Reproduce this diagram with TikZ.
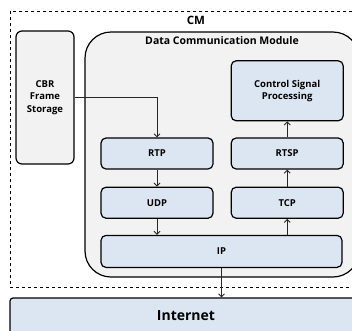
\documentclass[tikz,border=0pt]{standalone}
\usepackage{fontspec}
\setmainfont{Open Sans}
\usetikzlibrary{arrows.meta,positioning}
\definecolor{layerblue}{HTML}{DCE6F2}
\definecolor{panelgray}{HTML}{F2F2F2}

\begin{document}
\begin{tikzpicture}[x=1pt, y=-1pt,
  layer/.style={draw, line width=1.2pt, rounded corners=5pt, fill=layerblue, minimum width=112pt, minimum height=31pt, inner sep=0pt, align=center, font=\fontsize{9.5}{12.5}\selectfont\bfseries},
  panel/.style={draw, line width=1.2pt, fill=panelgray, inner sep=0pt},
  flow/.style={-{Straight Barb[length=3pt,width=6pt]}, line width=0.9pt, color=black!85}
]
\clip (0,0) rectangle (352,330);
% CM frame
\draw[dashed, line width=0.7pt] (10,11) rectangle (364,287);
\node[font=\fontsize{11.5}{13}\selectfont\bfseries] (cm) at (196,20) {CM};
\node[panel, rounded corners=6pt, minimum width=58pt, minimum height=133pt, align=center, font=\fontsize{9.5}{12.5}\selectfont\bfseries] (cbr) at (45,97.5) {CBR\\Frame\\Storage};
\node[panel, rounded corners=26pt, minimum width=274pt, minimum height=245pt] (dcm) at (222,154.5) {};
\node[font=\fontsize{10.5}{12}\selectfont\bfseries, below=2pt of dcm.north] (title) {Data Communication Module};

\node[layer] (rtp) at (157,153.5) {RTP};
\node[layer, below=17pt of rtp] (udp) {UDP};
\node[layer, right=17pt of rtp] (rtsp) {RTSP};
\node[layer, right=17pt of udp] (tcp) {TCP};
\node[layer, minimum height=60pt, above=16pt of rtsp] (csp) {Control Signal\\Processing};
\node[layer, minimum width=241pt, minimum height=32pt, below=16pt of udp.south west, anchor=north west] (ip) {IP};
\node[layer, rounded corners=3pt, minimum width=352pt, minimum height=36pt, font=\fontsize{14}{16}\selectfont\bfseries] (inet) at (186,316) {Internet};

\draw[flow] (cbr.east) -| (rtp.north);
\draw[flow] (rtp) -- (udp);
\draw[flow] (udp) -- (udp |- ip.north);
\draw[flow] (tcp |- ip.north) -- (tcp);
\draw[flow] (tcp) -- (rtsp);
\draw[flow] (rtsp) -- (csp);
\draw[flow] (ip.south) -- (ip.south |- inet.north);
\end{tikzpicture}
\end{document}
